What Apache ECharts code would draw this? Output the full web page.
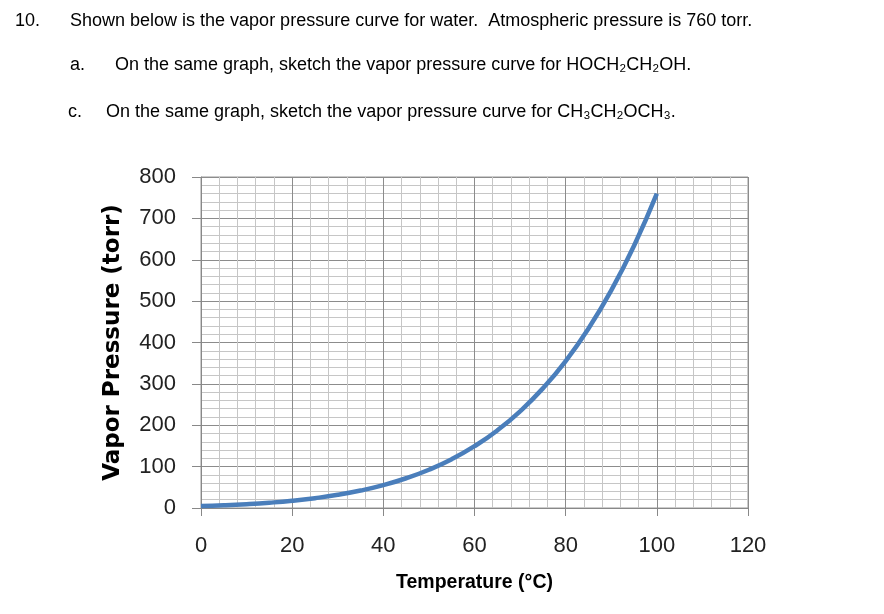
<!DOCTYPE html>
<html><head><meta charset="utf-8">
<script src="https://cdn.jsdelivr.net/npm/echarts@6/dist/echarts.min.js"></script>
<style>html,body{margin:0;padding:0;background:#fff}#c{width:884px;height:614px}</style>
</head><body><div id="c"></div>
<script>
const temperatures = [0,5,10,15,20,25,30,35,40,45,50,55,60,65,70,75,80,85,90,95,100];
const vaporPressure = [4.6,6.5,9.2,12.8,17.5,23.8,31.8,42.2,55.3,71.9,92.5,118.0,149.4,187.5,233.7,289.1,355.1,433.6,525.8,633.9,760];
const questionLines = [
  "Shown below is the vapor pressure curve for water.  Atmospheric pressure is 760 torr.",
  "On the same graph, sketch the vapor pressure curve for HOCH\u2082CH\u2082OH.",
  "On the same graph, sketch the vapor pressure curve for CH\u2083CH\u2082OCH\u2083."
];
const questionLabels = ["10.", "a.", "c."];
const xAxisTitle = "Temperature (\u00B0C)";
const yAxisTitle = "Vapor Pressure (torr)";

const chart = echarts.init(document.getElementById('c'));
const tf = '"Liberation Sans", Arial, sans-serif';
const txt = (x, y, s, size) => ({type:'text', left:x, top:y, style:{text:s, font: size + 'px ' + tf, fill:'#000'}});
chart.setOption({
  animation:false,
  graphic:[
    txt(15, 12, questionLabels[0], 18),
    txt(70, 12, questionLines[0], 18),
    txt(70, 56, questionLabels[1], 18),
    txt(115, 56, questionLines[1], 18),
    txt(68, 103, questionLabels[2], 18),
    txt(106, 103, questionLines[2], 18)
  ],
  grid:{left:201, right:136, top:177, bottom:106, show:true, borderColor:'#999', borderWidth:1},
  xAxis:{type:'value', min:0, max:120, interval:20,
    name:xAxisTitle, nameLocation:'middle', nameGap:65,
    nameTextStyle:{fontFamily:tf, fontSize:19.5, fontWeight:'bold', color:'#000'},
    axisLine:{show:true, onZero:false, lineStyle:{color:'#888'}},
    axisTick:{show:true, length:8, lineStyle:{color:'#888'}},
    axisLabel:{fontFamily:tf, fontSize:22, color:'#222', margin:27},
    splitLine:{show:true, lineStyle:{color:'#8c8c8c', width:1}},
    minorTick:{show:false, splitNumber:5},
    minorSplitLine:{show:true, lineStyle:{color:'#c6c6c6', width:1}}
  },
  yAxis:{type:'value', min:0, max:800, interval:100,
    name:yAxisTitle, nameLocation:'middle', nameGap:76,
    nameTextStyle:{fontFamily:'"DejaVu Sans", sans-serif', fontSize:23, fontWeight:'bold', color:'#000'},
    axisLine:{show:true, lineStyle:{color:'#888'}},
    axisTick:{show:true, length:9, lineStyle:{color:'#888'}},
    axisLabel:{fontFamily:tf, fontSize:22, color:'#222', margin:25},
    splitLine:{show:true, lineStyle:{color:'#8c8c8c', width:1}},
    minorTick:{show:false, splitNumber:5},
    minorSplitLine:{show:true, lineStyle:{color:'#c6c6c6', width:1}}
  },
  series:[{type:'line', data:temperatures.map((t,i)=>[t, vaporPressure[i]]),
    smooth:true, showSymbol:false, lineStyle:{color:'#4a7ebb', width:4.5}}]
});
</script></body></html>
